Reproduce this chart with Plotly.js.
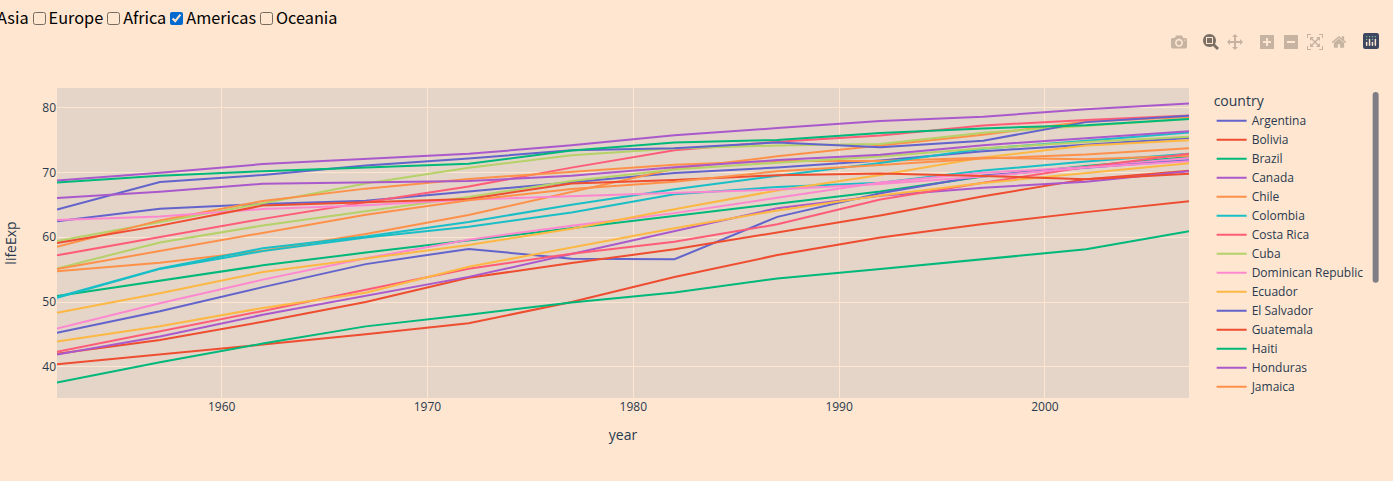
<!DOCTYPE html>
<html><head><meta charset="utf-8">
<script src="https://cdn.plot.ly/plotly-3.0.1.min.js"></script>
<style>
html,body{margin:0;padding:0;background:#fff;overflow:hidden;width:1393px;height:481px}
#chk{position:absolute;left:-3px;top:5px;height:24px;font-family:"Noto Sans CJK SC","Noto Sans",sans-serif;font-size:16.3px;color:#000;white-space:nowrap;line-height:24px}
#chk input{margin:0 3px 0 4px;width:13px;height:13px;vertical-align:-1px}
#g{position:absolute;left:0;top:28px;width:1385px;height:450px}
#tint{position:fixed;left:0;top:0;width:1393px;height:481px;background:#fee6d0;mix-blend-mode:multiply;pointer-events:none;z-index:9999}
</style></head><body>
<div id="chk"></div>
<div id="g"></div>
<div id="tint"></div>
<script>
const continents = ["Asia","Europe","Africa","Americas","Oceania"];
const checkedContinent = "Americas";
const years = [1952,1957,1962,1967,1972,1977,1982,1987,1992,1997,2002,2007];
const countries = ["Argentina","Bolivia","Brazil","Canada","Chile","Colombia","Costa Rica","Cuba","Dominican Republic","Ecuador","El Salvador","Guatemala","Haiti","Honduras","Jamaica","Mexico","Nicaragua","Panama","Paraguay","Peru","Puerto Rico","Trinidad and Tobago","United States","Uruguay","Venezuela"];
const argentina = [62.485,64.399,65.142,65.634,67.065,68.481,69.942,70.774,71.868,73.275,74.34,75.32];
const bolivia = [40.414,41.89,43.428,45.032,46.714,50.023,53.859,57.251,59.957,62.05,63.883,65.554];
const brazil = [50.917,53.285,55.665,57.632,59.504,61.489,63.336,65.205,67.057,69.388,71.006,72.39];
const canada = [68.75,69.96,71.3,72.13,72.88,74.21,75.76,76.86,77.95,78.61,79.77,80.653];
const chile = [54.745,56.074,57.924,60.523,63.441,67.052,70.565,72.492,74.126,75.816,77.86,78.553];
const colombia = [50.643,55.118,57.863,59.963,61.623,63.837,66.653,67.768,68.421,70.313,71.682,72.889];
const costaRica = [57.206,60.026,62.842,65.424,67.849,70.75,73.45,74.752,75.713,77.26,78.123,78.782];
const cuba = [59.421,62.325,65.246,68.29,70.723,72.649,73.717,74.174,74.414,76.151,77.158,78.273];
const dominicanRepublic = [45.928,49.828,53.459,56.751,59.631,61.788,63.727,66.046,68.457,69.957,70.847,72.235];
const ecuador = [48.357,51.356,54.64,56.678,58.796,61.31,64.342,67.231,69.613,72.312,74.173,74.994];
const elSalvador = [45.262,48.57,52.307,55.855,58.207,56.696,56.604,63.154,66.798,69.535,70.734,71.878];
const guatemala = [42.023,44.142,46.954,50.016,53.738,56.029,58.137,60.782,63.373,66.322,68.978,70.259];
const haiti = [37.579,40.696,43.59,46.243,48.042,49.923,51.461,53.636,55.089,56.671,58.137,60.916];
const honduras = [41.912,44.665,48.041,50.924,53.884,57.402,60.909,64.492,66.399,67.659,68.565,70.198];
const jamaica = [58.53,62.61,65.61,67.51,69,70.11,71.21,71.77,71.766,72.262,72.047,72.567];
const mexico = [50.789,55.19,58.299,60.11,62.361,65.032,67.405,69.498,71.455,73.67,74.902,76.195];
const nicaragua = [42.314,45.432,48.632,51.884,55.151,57.47,59.298,62.008,65.843,68.426,70.836,72.899];
const panama = [55.191,59.201,61.817,64.071,66.216,68.681,70.472,71.523,72.462,73.738,74.712,75.537];
const paraguay = [62.649,63.196,64.361,64.951,65.815,66.353,66.874,67.378,68.225,69.4,70.755,71.752];
const peru = [43.902,46.263,49.096,51.445,55.448,58.447,61.406,64.134,66.458,68.386,69.906,71.421];
const puertoRico = [64.28,68.54,69.62,71.1,72.16,73.44,73.75,74.63,73.911,74.917,77.778,78.746];
const trinidad = [59.1,61.8,64.9,65.4,65.9,68.3,68.832,69.582,69.862,69.465,68.976,69.819];
const unitedStates = [68.44,69.49,70.21,70.76,71.34,73.38,74.65,75.02,76.09,76.81,77.31,78.242];
const uruguay = [66.071,67.044,68.253,68.468,68.673,69.481,70.805,71.918,72.752,74.223,75.307,76.384];
const venezuela = [55.088,57.907,60.77,63.479,65.712,67.456,68.557,70.19,71.15,72.146,72.766,73.747];
const lifeExp = [argentina,bolivia,brazil,canada,chile,colombia,costaRica,cuba,dominicanRepublic,ecuador,elSalvador,guatemala,haiti,honduras,jamaica,mexico,nicaragua,panama,paraguay,peru,puertoRico,trinidad,unitedStates,uruguay,venezuela];
const palette = ["#636efa","#EF553B","#00cc96","#ab63fa","#FFA15A","#19d3f3","#FF6692","#B6E880","#FF97FF","#FECB52"];

const box = document.getElementById("chk");
continents.forEach((c,i)=>{
  const l = document.createElement("label");
  if(i>0){const inp=document.createElement("input");inp.type="checkbox";inp.checked=(c===checkedContinent);l.appendChild(inp);}
  l.appendChild(document.createTextNode(c));
  box.appendChild(l);
});

const traces = countries.map((name,i)=>({
  type:"scatter",mode:"lines",name:name,x:years,y:lifeExp[i],
  line:{color:palette[i%palette.length],width:2,dash:"solid"},
  legendgroup:name,showlegend:true
}));
Plotly.newPlot("g",traces,{
  width:1385,height:450,
  margin:{t:60,b:80,l:57,r:196,pad:0},
  paper_bgcolor:"#ffffff",plot_bgcolor:"#E5ECF6",
  font:{family:'"Open Sans", verdana, arial, sans-serif',size:12,color:"#2a3f5f"},
  xaxis:{title:{text:"year",standoff:16},gridcolor:"#ffffff",zeroline:false,automargin:true,ticks:""},
  yaxis:{title:{text:"lifeExp"},gridcolor:"#ffffff",zeroline:false,automargin:false,ticks:""},
  legend:{title:{text:"country"},tracegroupgap:0},
  hovermode:"closest"
},{displayModeBar:true,responsive:false}).then(()=>{
  document.querySelectorAll(".modebar-btn--logo svg *").forEach(el=>{
    if(!["rect","path","circle","polygon"].includes(el.tagName.toLowerCase())) return;
    const f = getComputedStyle(el).fill;
    if(f==="rgb(0, 0, 0)") el.style.fill="#3f4f75";
    else if(f!=="rgb(255, 255, 255)" && f!=="none") el.style.fill="#80cfbe";
  });
  const yt = document.querySelector(".ytitle");
  if(yt) yt.setAttribute("transform","translate(-3,0) "+(yt.getAttribute("transform")||""));
});
</script>
</body></html>
